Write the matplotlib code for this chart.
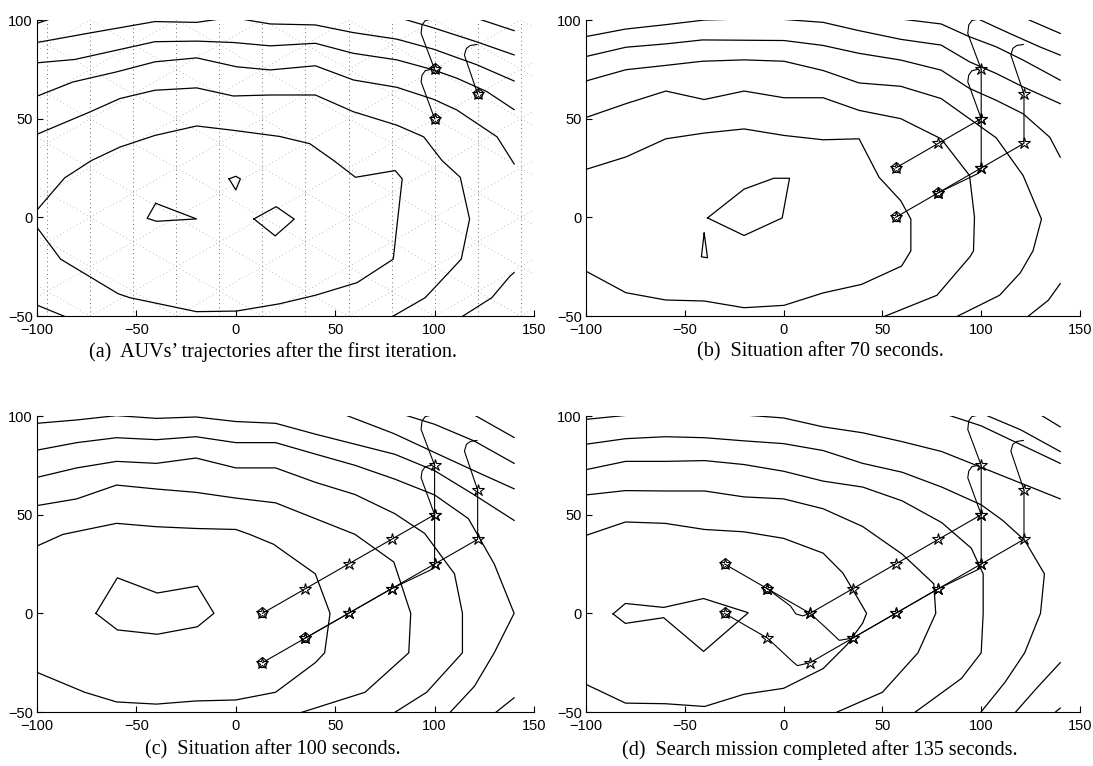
import matplotlib.pyplot as plt

plt.rcParams['font.family'] = ['Liberation Sans', 'DejaVu Sans']

# ---------------------------------------------------------------------------
# level lines of the estimated field, traced by hand, one list per line
# ---------------------------------------------------------------------------
CONTOURS_A = [
    [(-100, 98.3), (-93, 100.6)],
    [(-100, 88.6), (-73, 93.5), (-40.7, 99.2), (-19.7, 98.8), (-8, 100.5), (3.8, 100.3),
     (17.3, 98), (40, 97.5), (59.2, 93.6), (81, 90.3), (99.5, 85.2), (121.3, 77.3), (140, 69.1)],
    [(-100, 78.3), (-81, 80), (-40.7, 89), (-19.7, 89.3), (-1.3, 88.6), (17.3, 86.9),
     (40, 88.2), (59.2, 83.1), (81, 79.8), (99.5, 74.7), (111.2, 70.5), (126.3, 63.7), (140, 54.6)],
    [(-100, 61.4), (-81.9, 68.6), (-60, 73.7), (-40.7, 78.8), (-19.7, 80.8), (0.4, 76.3),
     (17.3, 74.7), (40, 76.8), (59.2, 69.6), (81, 65.9), (99.5, 59.8), (111.2, 54.4),
     (131.4, 40.8), (140, 27.1)],
    [(-100, 42.1), (-73.4, 53.4), (-58.3, 60.2), (-40.7, 64.4), (-19.7, 65.6), (-1.3, 61.5),
     (17.3, 62), (40, 62), (59.2, 53.5), (81, 46.7), (94.5, 40.8), (103.7, 28.8), (112.9, 20.3),
     (117.6, -0.9), (113.4, -21.2), (95.3, -40.7), (77.7, -50.9)],
    [(-100, 3.7), (-86.1, 20), (-72.6, 28.8), (-58.3, 35.6), (-40.7, 41.5), (-19.7, 46.3),
     (-1.3, 44.1), (22, 41), (37.3, 37.3), (49.2, 28.8), (60.2, 20.3), (80.2, 23.7), (83.7, 19.5),
     (79.2, -21.2), (61, -33.1), (40, -39.5), (22.1, -43.8), (0.3, -47.5), (-19.8, -47.8),
     (-53.4, -40.7), (-59.2, -38.7), (-88.1, -21.2), (-100, -5.1)],
    [(84, 100.6), (99.5, 96), (121, 89), (140, 82.3)],
    [(122, 100.6), (140, 94.6)],
    [(-100, -44.5), (-84.4, -50.9)],
    [(112.9, -50.9), (128.8, -40.7), (138, -29.7), (140, -28)],
    [(-3.4, 19.5), (0, 20.8), (2.3, 19.5), (0, 13.9), (-3.4, 19.5)],
    [(-40.3, 7.1), (-19.8, -0.8), (-39.9, -2), (-44.6, -0.5), (-40.3, 7.1)],
    [(9.1, -0.8), (20.3, 5.4), (29.4, -0.9), (19.8, -9.4), (9.1, -0.8)],
]

CONTOURS_B = [
    [(-100, 91.6), (-80, 95.4), (-60, 97.6), (-40, 100), (-20, 100.5), (0, 100.3), (20, 98.8),
     (38.2, 94.6), (59.3, 90.2), (79.7, 87.3), (94.1, 78.8), (107.6, 72.9), (121.2, 66.1),
     (140, 57.6)],
    [(-100, 81.5), (-79.8, 86.2), (-59.6, 87.9), (-41.1, 89.9), (0.2, 89.6), (20, 87.1),
     (38.2, 83.1), (59.3, 79.7), (79.7, 74.6), (94.1, 65.3), (107.6, 59.3), (121.2, 52.5),
     (134.7, 40.6), (140, 30.5)],
    [(-100, 69.1), (-79.8, 74.8), (-59.6, 77), (-41.1, 79.1), (-20, 79.8), (0.2, 79.1),
     (20, 74.4), (38.2, 68.1), (59.3, 66.4), (79.7, 60.2), (107.6, 40.3), (121.2, 21.2),
     (130.5, -0.9), (126.2, -17), (119.8, -28.1), (109.3, -39.5), (87.2, -50.5)],
    [(-100, 50.6), (-79.8, 57.6), (-59.6, 64), (-40.2, 59.7), (-20, 64), (0.2, 60.6),
     (20, 60.6), (38.2, 54.2), (59.3, 50), (79.7, 39.8), (94.1, 21.2), (96.6, 0), (96.1, -17),
     (94.3, -20), (77.6, -39.5), (50.3, -50.5)],
    [(-100, 24.3), (-79.8, 30.6), (-59.6, 39.8), (-40.2, 42.7), (-20, 44.8), (0.2, 41.5),
     (20, 39.3), (38.2, 39.8), (48.3, 20.3), (59.3, 8.4), (64.4, -0.9), (64.4, -17),
     (59.7, -24.7), (39.4, -34), (20, -38.3), (0.2, -44.6), (-20, -45.8), (-40.2, -42.4),
     (-59.6, -41.9), (-79.8, -38.2), (-100, -27.3)],
    [(58.5, 100.6), (79.7, 98), (94.1, 91.5), (107.6, 86.4), (121.2, 79.7), (140, 69.5)],
    [(98.3, 100.6), (114.4, 93.2), (129.6, 86.4), (140, 82.2)],
    [(122.9, 100.6), (140, 93.2)],
    [(123.3, -50.5), (134, -42), (140, -33.6)],
    [(-38.5, -0.3), (-20, 14.3), (-5, 19.8), (3, 19.8), (-0.7, -0.3), (-20, -9.2), (-38.5, -0.3)],
    [(-40.2, -8), (-41.6, -20), (-38.5, -20.5), (-40.2, -8)],
]

CONTOURS_C = [
    [(-100, 96.3), (-80, 98), (-60, 100.2), (-40, 98.8), (-20, 99.5), (0, 97.2), (20, 96.3),
     (40, 90.8), (60, 85.7), (80, 80.6), (100, 72.3), (120, 60), (140, 47.1)],
    [(-100, 82.7), (-80, 86.5), (-60, 89), (-40, 88), (-20, 89.5), (0, 86.5), (20, 86.5),
     (40, 80.7), (60, 75), (80, 68), (100, 60), (117, 48), (130, 25), (140, 0), (130, -20),
     (120, -37), (107.5, -50.5)],
    [(-100, 68.9), (-80, 73.7), (-60, 77), (-40, 76), (-20, 78.7), (0, 73.7), (20, 73.7),
     (40, 66.4), (60, 60.2), (80, 50.5), (95, 40.5), (110, 20), (114, 0), (114, -20),
     (96, -40), (79.5, -50.5)],
    [(-100, 54.6), (-80, 58), (-60, 65), (-40, 63), (-20, 61.3), (0, 58.4), (20, 56), (40, 48),
     (60, 40), (79.5, 26), (88, 0), (87, -20), (65, -40), (32.1, -50.5)],
    [(-100, 34.1), (-87, 40), (-60, 45.6), (-40, 43.9), (-20, 43), (0, 42.5), (7, 40),
     (19, 35), (33, 25), (40, 20), (47.4, 0), (44.7, -20), (40, -25), (20, -40), (0, -43.9),
     (-20, -44.4), (-40, -46), (-60, -44.9), (-76, -40), (-100, -29.9)],
    [(54.9, 100.6), (79.5, 91.1), (100, 81.5), (119.8, 72.3), (140, 63.1)],
    [(84.7, 100.6), (100, 95.8), (119.8, 87.4), (140, 76)],
    [(119.8, 100.6), (140, 89.1)],
    [(130.4, -50.5), (140, -42.8)],
    [(-70.4, 0), (-59.6, 18), (-39.5, 10.3), (-19.3, 13.8), (-11, 0), (-19.3, -6.8),
     (-39.5, -10.6), (-59.6, -8.4), (-70.4, 0)],
]

CONTOURS_D = [
    [(-100, 98.3), (-80, 100.3), (-60, 100.6), (-40, 100.6), (-20, 100.5), (0, 99),
     (20, 94.5), (40, 91.5), (60, 87), (80, 82), (100, 74), (120, 66), (140, 58)],
    [(-100, 85.7), (-80, 88.5), (-60, 89.5), (-40, 89), (-20, 87.4), (0, 86), (20, 82.5),
     (40, 76), (60, 71.5), (80, 64), (100, 55), (111, 47), (122, 37), (132, 20), (130, 0),
     (122, -20), (112, -35), (99.5, -50.5)],
    [(-100, 72.8), (-80, 77), (-60, 77), (-40, 77.4), (-20, 75.4), (0, 72), (20, 67),
     (40, 64), (60, 57), (80, 46), (95, 33), (101, 20), (101, 0), (100, -20), (90, -33),
     (66, -50.5)],
    [(-100, 60), (-80, 62.2), (-60, 62), (-40, 62), (-20, 59), (0, 58), (20, 53), (40, 44),
     (60, 30), (76, 15), (77, 0), (68, -20), (50, -40), (26, -50.5)],
    [(-100, 39.5), (-80, 46.3), (-60, 45.6), (-40, 42.5), (-20, 41.3), (0, 38), (20, 30.5),
     (30, 20.4), (35, 12), (42, 0), (40, -5), (32, -16), (20, -28), (0, -38), (-20, -41),
     (-40, -47.2), (-60, -45.8), (-80, -45.5), (-100, -36)],
    [(83, 100.6), (100, 95), (120, 85.5), (140, 76)],
    [(102, 100.6), (120, 93), (140, 82)],
    [(130, 100.6), (140, 94.5)],
    [(117, -50.5), (128, -38), (140, -25)],
    [(137, -50.5), (140, -48)],
    [(-86.3, -0.3), (-80.1, 5), (-60.7, 3), (-40.5, 7.5), (-17.9, 0.3), (-40.5, -19.3),
     (-60.7, -2.2), (-80.1, -5.1), (-86.3, -0.3)],
]

# ---------------------------------------------------------------------------
# AUV trajectories: entry hooks, then lattice waypoints (with turn vertices)
# ---------------------------------------------------------------------------
HOOK_A = [(98.7, 100.5), (95.3, 99.7), (93.7, 97.5), (93.2, 93.2), (100, 75)]
HOOK_B = [(98.7, 75.1), (95.3, 74.3), (93.7, 72.1), (93.2, 68.7), (100, 50)]
HOOK_C = [(121.3, 87.6), (118, 87.1), (116, 85.6), (115, 82.2), (121.65, 62.5)]

WAYPOINTS_A = [(100, 75), (100, 50), (78.35, 37.5), (56.7, 25), (35.05, 12.5), (13.4, 0),
               (-8.25, 12.5), (-29.9, 25)]
WAYPOINTS_B = [(100, 50), (100, 25), (78.35, 12.5), (56.7, 0), (35.05, -12.5), (13.4, 0),
               (-8.25, 12.5)]
WAYPOINTS_C = [(121.65, 62.5), (121.65, 37.5), (100, 25), (78.35, 12.5), (56.7, 0),
               (35.05, -12.5), (13.4, -25), (-8.25, -12.5), (-29.9, 0)]

PATH_A = [(100, 75), (100, 50), (78.35, 37.5), (56.7, 25), (35.05, 12.5), (13.4, 0),
          (9.7, -1.3), (6.2, -0.3), (3.5, 3.7), (-8.25, 12.5), (-29.9, 25)]
PATH_B = [(100, 50), (100, 25), (99.6, 23), (98, 22), (78.35, 12.5), (56.7, 0),
          (35.05, -12.5), (28.2, -13.7), (21.1, -7), (13.4, 0), (-8.25, 12.5)]
PATH_C = [(121.65, 62.5), (121.65, 37.5), (100, 25), (78.35, 12.5), (56.7, 0),
          (35.05, -12.5), (13.4, -25), (7, -26.5), (4.4, -24.3), (-8.25, -12.5), (-29.9, 0)]

# waypoints reached by AUV A, B, C in each snapshot
REACHED = [(1, 1, 1), (4, 3, 5), (6, 5, 7), (8, 7, 9)]

CAPTIONS = ["(a)  AUVs\u2019 trajectories after the first iteration.",
            "(b)  Situation after 70 seconds.",
            "(c)  Situation after 100 seconds.",
            "(d)  Search mission completed after 135 seconds."]

LATTICE_DX = 21.65   # column spacing of the sensing lattice
LATTICE_DY = 25.0


def draw_lattice(ax):
    k = -2
    while 100 - LATTICE_DX * k > -100:
        x = 100 - LATTICE_DX * k
        ax.axvline(x, color='0.25', lw=0.6, ls=(0, (1, 4)), zorder=1)
        k += 1
    slope = LATTICE_DY / 2 / LATTICE_DX
    for j in range(-8, 10):
        ax.axline((0, 17.26 + LATTICE_DY * j), slope=slope, color='0.6', lw=0.55,
                  ls=(0, (1, 4)), zorder=1)
        ax.axline((0, 7.74 + LATTICE_DY * j), slope=-slope, color='0.6', lw=0.55,
                  ls=(0, (1, 4)), zorder=1)


def upto(path, waypoints, n):
    end = path.index(waypoints[n - 1])
    return path[:end + 1]


def draw_auv(ax, hook, path, waypoints, n):
    ax.plot(*zip(*hook), color='k', lw=0.8, zorder=3)
    seg = upto(path, waypoints, n)
    if len(seg) > 1:
        ax.plot(*zip(*seg), color='k', lw=0.8, zorder=3)
    pts = waypoints[:n]
    ax.plot(*zip(*pts), ls='none', marker='*', ms=9, mfc='none', mec='k', mew=0.8, zorder=4)
    cur = waypoints[n - 1]
    ax.plot(cur[0], cur[1], ls='none', marker='p', ms=8, mfc='none', mec='k', mew=0.8, zorder=4)


def draw_panel(ax, contours, reached, lattice=False):
    if lattice:
        draw_lattice(ax)
    for line in contours:
        ax.plot(*zip(*line), color='k', lw=0.9, zorder=2)
    draw_auv(ax, HOOK_A, PATH_A, WAYPOINTS_A, reached[0])
    draw_auv(ax, HOOK_B, PATH_B, WAYPOINTS_B, reached[1])
    draw_auv(ax, HOOK_C, PATH_C, WAYPOINTS_C, reached[2])

    ax.set_xlim(-100, 150)
    ax.set_ylim(-50, 100)
    ax.set_xticks([-100, -50, 0, 50, 100, 150])
    ax.set_yticks([-50, 0, 50, 100])
    for side in ('top', 'right'):
        ax.spines[side].set_visible(False)
    ax.spines['left'].set_linewidth(0.8)
    ax.spines['bottom'].set_linewidth(0.8)
    ax.tick_params(direction='in', length=4, width=0.8, labelsize=10.5, pad=3)
    ax.tick_params(axis='x', pad=5)


W, H = 1093, 766
fig = plt.figure(figsize=(W / 100, H / 100), dpi=100)

# axes boxes in pixels: left, right, top, bottom
boxes = [(37, 534, 20, 316), (586, 1080, 20, 316),
         (37, 534, 416, 712), (586, 1080, 416, 712)]
caption_xy = [(273, 352), (820, 352), (273, 750), (820, 750)]
all_contours = [CONTOURS_A, CONTOURS_B, CONTOURS_C, CONTOURS_D]

for i, (l, r, t, b) in enumerate(boxes):
    ax = fig.add_axes([l / W, 1 - b / H, (r - l) / W, (b - t) / H])
    draw_panel(ax, all_contours[i], REACHED[i], lattice=(i == 0))
    cx, cy = caption_xy[i]
    fig.text(cx / W, 1 - cy / H, CAPTIONS[i], ha='center', va='center',
             family=['Liberation Serif', 'DejaVu Serif'], fontsize=14.5)

fig.savefig('out.png', dpi=100)
